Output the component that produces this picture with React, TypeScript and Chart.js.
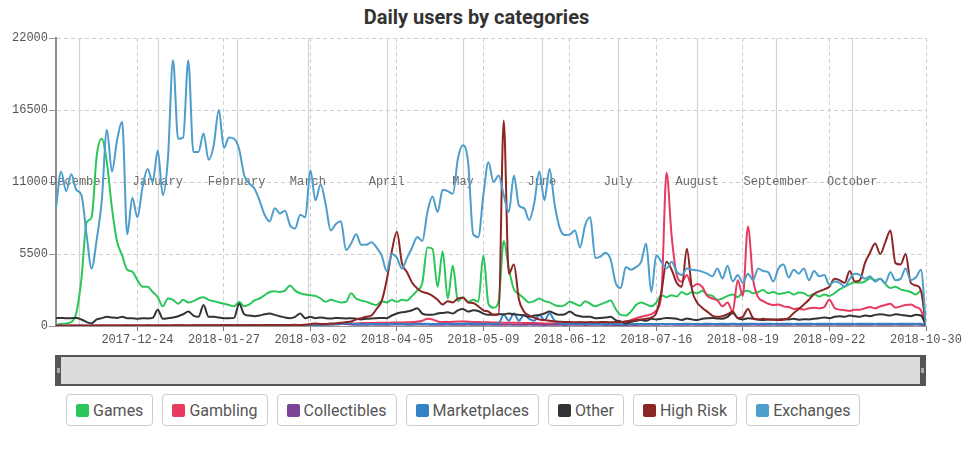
import React, { useEffect, useRef } from "react";
import { Chart, registerables } from "chart.js";

Chart.register(...registerables);

// ---------- data ----------
const START_DATE = "2017-11-22";
const STEP_DAYS = 2; // one value every 2 days, starting at START_DATE

const xTickDates = [
  "2017-12-24", "2018-01-27", "2018-03-02", "2018-04-05", "2018-05-09",
  "2018-06-12", "2018-07-16", "2018-08-19", "2018-09-22", "2018-10-30",
];
const monthStartDates = [
  "2017-12-01", "2018-01-01", "2018-02-01", "2018-03-01", "2018-04-01", "2018-05-01",
  "2018-06-01", "2018-07-01", "2018-08-01", "2018-09-01", "2018-10-01",
];
const monthNames = [
  "December", "January", "February", "March", "April", "May",
  "June", "July", "August", "September", "October",
];
const yTickValues = [0, 5500, 11000, 16500, 22000];

const categories = ["Games", "Gambling", "Collectibles", "Marketplaces", "Other", "High Risk", "Exchanges"];
const categoryColors = ["#2bc65a", "#e8395f", "#7b4597", "#3481c3", "#333333", "#8c2626", "#4d9ecb"];

const games = [
  100, 150, 200, 300, 1000, 3600, 7900, 8300, 13000, 14300,
  12500, 9000, 6450, 5400, 4300, 4150, 3500, 3000, 3000, 2600,
  2200, 1500, 2100, 2000, 1700, 2000, 1800, 1900, 2100, 2200,
  2000, 1900, 1800, 1700, 1600, 1500, 1850, 1500, 1650, 1950,
  2100, 2350, 2600, 2650, 2600, 2700, 3100, 2700, 2500, 2400,
  2350, 2300, 2100, 1850, 2000, 1900, 1800, 1850, 2500, 2100,
  1950, 1850, 1700, 1600, 1900, 1800, 2000, 1850, 2000, 1950,
  2300, 2700, 3300, 6000, 5900, 3000, 5700, 2100, 4600, 1900,
  2200, 1850, 2000, 1850, 5400, 1700, 1400, 1900, 6500, 4400,
  2800, 2450, 2100, 1800, 1900, 2100, 1900, 1800, 1600, 1500,
  1600, 1850, 1700, 1550, 1900, 1700, 1500, 1650, 1800, 1950,
  1300, 850, 800, 1100, 1600, 1800, 1650, 1500, 1800, 2350,
  2200, 2350, 2250, 2600, 2400, 2600, 2500, 2700, 2400, 2300,
  2000, 2100, 2300, 2400, 2200, 2600, 2700, 2500, 2600, 2750,
  2500, 2600, 2450, 2500, 2600, 2400, 2550, 2500, 2300, 2450,
  2250, 2400, 2300, 2500, 2800, 3000, 3200, 3350, 3300, 3400,
  3650, 3500, 3600, 3200, 2900, 3000, 2800, 2700, 2600, 2400,
  2700, 0,
];

const gambling = [
  20, 20, 30, 30, 20, 30, 30, 20, 30, 30,
  30, 30, 40, 30, 30, 40, 30, 40, 40, 30,
  40, 30, 40, 40, 50, 40, 40, 50, 40, 50,
  50, 40, 50, 50, 60, 50, 50, 60, 50, 60,
  60, 60, 70, 60, 70, 80, 70, 80, 80, 90,
  90, 100, 100, 110, 120, 130, 150, 170, 200, 200,
  220, 230, 230, 240, 250, 250, 260, 260, 270, 280,
  300, 320, 400, 550, 500, 350, 300, 300, 320, 340,
  350, 330, 300, 300, 280, 280, 270, 260, 250, 250,
  250, 240, 230, 220, 220, 210, 200, 200, 200, 190,
  190, 180, 180, 190, 200, 200, 190, 200, 210, 220,
  250, 300, 350, 450, 600, 700, 800, 900, 1200, 2500,
  11700, 6900, 3900, 3400, 3900, 3000, 3200, 3000, 2300, 2100,
  1950, 1500, 1800, 1100, 3500, 2300, 7600, 3600, 2200, 1900,
  1700, 1600, 1650, 1500, 1450, 1300, 1350, 1250, 1350, 1400,
  1350, 1450, 2000, 1400, 1250, 1200, 1150, 1250, 1250, 1350,
  1450, 1350, 1500, 1600, 1700, 1400, 1500, 1600, 1650, 1450,
  1200, 0,
];

const collectibles = [
  0, 0, 0, 0, 0, 0, 0, 0, 0, 0,
  0, 0, 0, 0, 0, 0, 0, 0, 0, 0,
  0, 0, 0, 0, 0, 0, 0, 0, 0, 0,
  0, 0, 0, 0, 0, 10, 10, 10, 20, 20,
  20, 30, 30, 40, 40, 50, 50, 60, 60, 70,
  80, 90, 100, 120, 150, 180, 200, 150, 120, 100,
  90, 100, 110, 100, 90, 100, 110, 120, 110, 100,
  100, 110, 120, 110, 100, 90, 100, 110, 100, 90,
  100, 110, 100, 90, 100, 110, 100, 90, 100, 110,
  100, 90, 100, 110, 100, 90, 80, 90, 100, 90,
  80, 90, 100, 90, 80, 90, 100, 90, 80, 90,
  80, 70, 80, 90, 80, 90, 100, 90, 100, 110,
  100, 110, 100, 90, 100, 110, 100, 90, 100, 110,
  100, 90, 100, 110, 100, 90, 100, 110, 100, 90,
  100, 110, 100, 90, 100, 110, 100, 90, 100, 110,
  100, 90, 100, 110, 100, 90, 100, 110, 100, 90,
  100, 110, 100, 90, 100, 110, 100, 90, 100, 110,
  90, 0,
];

const marketplaces = [
  10, 10, 10, 10, 10, 10, 10, 10, 10, 10,
  10, 10, 20, 20, 20, 20, 20, 20, 20, 20,
  20, 20, 20, 30, 30, 30, 30, 30, 30, 30,
  30, 30, 40, 40, 40, 40, 40, 50, 50, 50,
  50, 60, 60, 60, 70, 70, 70, 80, 80, 80,
  90, 100, 100, 110, 120, 130, 150, 250, 200, 150,
  150, 140, 150, 160, 150, 150, 160, 170, 160, 150,
  150, 160, 170, 160, 150, 160, 170, 160, 170, 180,
  180, 190, 180, 170, 180, 170, 180, 200, 850, 400,
  950, 400, 850, 550, 400, 840, 450, 950, 400, 200,
  180, 170, 160, 170, 160, 150, 160, 150, 140, 150,
  150, 140, 130, 140, 150, 160, 150, 150, 160, 150,
  150, 160, 150, 160, 170, 160, 150, 160, 170, 160,
  160, 170, 160, 170, 160, 170, 180, 170, 160, 170,
  170, 160, 170, 180, 170, 160, 170, 180, 170, 160,
  170, 180, 170, 160, 170, 180, 170, 160, 170, 180,
  170, 160, 170, 180, 170, 160, 170, 180, 170, 160,
  170, 0,
];

const other = [
  600, 620, 590, 600, 620, 500, 300, 200, 500, 600,
  700, 650, 620, 700, 600, 600, 560, 600, 580, 620,
  1250, 550, 600, 650, 750, 900, 1100, 800, 700, 1600,
  700, 700, 650, 600, 600, 620, 1700, 900, 800, 750,
  800, 900, 950, 850, 750, 650, 600, 700, 950, 600,
  700, 600, 650, 600, 580, 620, 600, 580, 600, 550,
  500, 550, 580, 600, 620, 600, 800, 950, 1050, 1100,
  1200, 1350, 950, 850, 850, 950, 1000, 1050, 950, 1200,
  1300, 1100, 1200, 1150, 950, 850, 850, 900, 900, 950,
  900, 850, 800, 700, 800, 850, 950, 1100, 950, 850,
  900, 1100, 850, 750, 700, 700, 600, 620, 650, 700,
  450, 350, 200, 300, 400, 450, 400, 550, 500, 550,
  620, 600, 550, 450, 580, 500, 450, 550, 600, 620,
  580, 550, 700, 1000, 600, 500, 600, 550, 500, 450,
  500, 480, 500, 520, 500, 550, 480, 520, 500, 550,
  600, 650, 600, 700, 750, 700, 800, 750, 700, 800,
  750, 850, 900, 850, 800, 900, 850, 800, 750, 850,
  800, 0,
];

const highRisk = [
  20, 30, 20, 30, 40, 30, 20, 30, 40, 30,
  30, 40, 30, 40, 50, 40, 30, 40, 50, 40,
  40, 50, 40, 50, 60, 50, 40, 50, 60, 50,
  50, 60, 50, 60, 70, 60, 50, 60, 70, 60,
  60, 70, 80, 70, 60, 70, 80, 90, 80, 90,
  150, 200, 150, 150, 200, 200, 250, 300, 350, 500,
  600, 700, 800, 1300, 1900, 3500, 5700, 7200, 4800, 4100,
  3300, 2870, 2600, 2500, 2300, 2000, 1650, 1900, 1800, 2100,
  2150, 1800, 1750, 1500, 1200, 1100, 850, 900, 15700, 4000,
  4700, 2000, 1100, 800, 640, 500, 450, 400, 350, 330,
  300, 300, 280, 300, 280, 300, 280, 300, 300, 280,
  300, 300, 350, 400, 450, 500, 550, 650, 1000, 2600,
  4900, 4300, 3300, 3000, 5900, 2800, 1800, 1400, 1100, 800,
  700, 750, 900, 1100, 600, 700, 1300, 600, 500, 550,
  500, 500, 460, 480, 600, 1000, 1300, 1650, 2000, 2450,
  2650, 2800, 3000, 3600, 3500, 3300, 4200, 3400, 3500, 4800,
  5600, 6300, 5500, 6400, 7300, 4800, 4700, 5500, 3300, 3100,
  2700, 0,
];

const exchanges = [
  9000, 11800, 10300, 11600, 10400, 10000, 7000, 4400, 6600, 9600,
  15000, 11800, 14200, 15600, 7000, 9800, 8300, 10600, 12000, 11000,
  13400, 10000, 12800, 20300, 14300, 14400, 20300, 13300, 13300, 14700,
  12700, 13800, 16500, 13600, 14400, 14300, 13500, 11500, 10900, 10500,
  9600, 8500, 8000, 9000, 8600, 8800, 7700, 7450, 8500, 8300,
  11900, 9600, 10800, 9300, 7300, 7800, 8000, 5800, 6300, 7000,
  6200, 6200, 6400, 6000, 5400, 4200, 5500, 5200, 4400, 5200,
  6000, 6800, 6500, 8700, 9900, 8700, 10400, 10300, 10100, 12800,
  13800, 12500, 7000, 6800, 10000, 12500, 11000, 11500, 10000, 8700,
  11500, 9200, 9000, 8100, 9400, 11800, 9600, 12000, 9300, 7500,
  6950, 7000, 7300, 6000, 7700, 8300, 5200, 5300, 5600, 5100,
  3300, 2900, 4500, 4300, 4500, 4900, 6300, 2600, 5400, 4900,
  4400, 4900, 4150, 3900, 4400, 4300, 4250, 4150, 4000, 3800,
  4400, 3630, 4600, 3400, 3900, 3300, 4000, 3500, 4400, 4200,
  4100, 3400, 4400, 4700, 3700, 4300, 4000, 4400, 3500, 4200,
  3800, 3900, 3150, 3400, 3300, 3000, 3600, 4000, 3900, 3600,
  3800, 3400, 3600, 3300, 4100, 3500, 3600, 4400, 3500, 3700,
  4300, 0,
];

const seriesValues = [games, gambling, collectibles, marketplaces, other, highRisk, exchanges];

// ---------- helpers ----------
const DAY_MS = 86400000;
const startMs = Date.parse(START_DATE + "T00:00:00Z");
const dayOf = (d: string) => Math.round((Date.parse(d + "T00:00:00Z") - startMs) / DAY_MS);
const dateLabel = (day: number) => new Date(startMs + day * DAY_MS).toISOString().slice(0, 10);

const xTickDays = xTickDates.map(dayOf);
const monthStartDays = monthStartDates.map(dayOf);
const X_MAX = xTickDays[xTickDays.length - 1];

const MONO = '"Liberation Mono", "DejaVu Sans Mono", monospace';

const monthLinesPlugin = {
  id: "monthLines",
  beforeDatasetsDraw(chart: any) {
    const { ctx, chartArea, scales } = chart;
    const midY = (chartArea.top + chartArea.bottom) / 2;
    ctx.save();
    ctx.strokeStyle = "#d4d4d4";
    ctx.lineWidth = 1.2;
    monthStartDays.forEach((d) => {
      const x = Math.round(scales.x.getPixelForValue(d)) + 0.5;
      ctx.beginPath();
      ctx.moveTo(x, chartArea.top);
      ctx.lineTo(x, chartArea.bottom);
      ctx.stroke();
    });
    ctx.fillStyle = "#6a6a6a";
    ctx.font = "12px " + MONO;
    ctx.textAlign = "center";
    ctx.textBaseline = "middle";
    monthStartDays.forEach((d, i) => {
      const x = scales.x.getPixelForValue(d);
      ctx.fillText(monthNames[i], x, midY);
    });
    ctx.restore();
  },
};

export default function App() {
  const canvasRef = useRef<HTMLCanvasElement | null>(null);

  useEffect(() => {
    if (!canvasRef.current) return;
    const datasets = categories.map((name, i) => ({
      label: name,
      data: seriesValues[i].map((v, k) => ({ x: k * STEP_DAYS, y: v })),
      borderColor: categoryColors[i],
      backgroundColor: categoryColors[i],
      borderWidth: 2,
      pointRadius: 0,
      cubicInterpolationMode: "monotone" as const,
      fill: false,
      order: categories.length - i,
    }));

    const chart = new Chart(canvasRef.current, {
      type: "line",
      data: { datasets },
      options: {
        animation: false,
        responsive: false,
        maintainAspectRatio: false,
        layout: { padding: { top: 38, right: 47, bottom: 0, left: 0 } },
        plugins: {
          legend: { display: false },
          tooltip: { enabled: false },
          title: { display: false },
        },
        scales: {
          x: {
            type: "linear",
            min: 0,
            max: X_MAX,
            afterBuildTicks: (scale: any) => {
              scale.ticks = xTickDays.map((v) => ({ value: v }));
            },
            afterFit: (scale: any) => {
              scale.height = 24;
            },
            ticks: {
              autoSkip: false,
              maxRotation: 0,
              minRotation: 0,
              padding: 2,
              color: "#555",
              font: { family: MONO, size: 12 },
              callback: (v: any) => dateLabel(Number(v)),
            },
            grid: {
              color: "#cfcfcf",
              lineWidth: 1,
              drawTicks: true,
              tickLength: 5,
              tickColor: "#777",
            },
            border: { display: true, color: "#999", width: 1, dash: [4, 3] },
          },
          y: {
            type: "linear",
            min: 0,
            max: 22000,
            afterBuildTicks: (scale: any) => {
              scale.ticks = yTickValues.map((v) => ({ value: v }));
            },
            afterFit: (scale: any) => {
              scale.width = 56;
            },
            ticks: {
              padding: 1,
              color: "#555",
              font: { family: MONO, size: 12 },
              callback: (v: any) => String(v),
            },
            grid: {
              color: "#cfcfcf",
              lineWidth: 1,
              drawTicks: true,
              tickLength: 7,
              tickColor: "#999",
            },
            border: { display: true, color: "#8e8e8e", width: 2, dash: [4, 3] },
          },
        },
      },
      plugins: [monthLinesPlugin],
    });
    return () => chart.destroy();
  }, []);

  return (
    <div
      style={{
        position: "absolute",
        left: 0,
        top: 0,
        width: 973,
        height: 449,
        background: "#fff",
        fontFamily: "Roboto, sans-serif",
      }}
    >
      <div
        style={{
          position: "absolute",
          left: 0,
          top: 7,
          width: 953,
          textAlign: "center",
          fontSize: 20,
          lineHeight: "20px",
          fontWeight: 700,
          color: "#333",
        }}
      >
        Daily users by categories
      </div>
      <canvas
        ref={canvasRef}
        width={973}
        height={350}
        style={{ position: "absolute", left: 0, top: 0, width: 973, height: 350 }}
      />
      {/* range selector */}
      <div
        style={{
          position: "absolute",
          left: 55,
          top: 355,
          width: 871,
          height: 31,
          background: "#555",
        }}
      >
        <div style={{ position: "absolute", left: 6, right: 6, top: 2, bottom: 2, background: "#dcdcdc" }} />
        <div style={{ position: "absolute", left: 2, top: 13, width: 3, height: 5, background: "#aaa" }} />
        <div style={{ position: "absolute", right: 2, top: 13, width: 3, height: 5, background: "#aaa" }} />
      </div>
      {/* legend */}
      <div style={{ position: "absolute", left: 66, top: 394, display: "flex", gap: 9 }}>
        {categories.map((name, i) => (
          <div
            key={name}
            style={{
              display: "flex",
              alignItems: "center",
              height: 30,
              padding: "0 9px",
              border: "1px solid #cccccc",
              borderRadius: 4,
              background: "#fff",
              color: "#555",
              fontSize: 16,
              whiteSpace: "nowrap",
            }}
          >
            <span
              style={{
                display: "inline-block",
                width: 13,
                height: 13,
                borderRadius: 2,
                background: categoryColors[i],
                marginRight: 4,
              }}
            />
            {name}
          </div>
        ))}
      </div>
    </div>
  );
}
